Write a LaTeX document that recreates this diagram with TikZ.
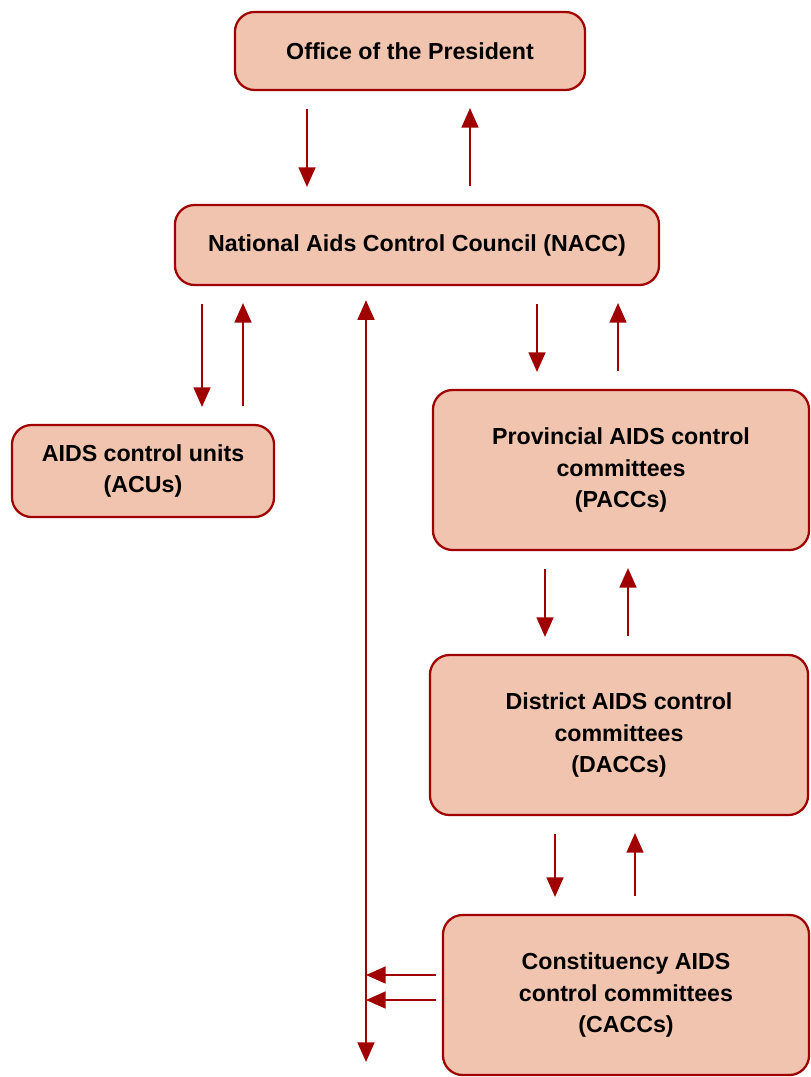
\documentclass[tikz,border=0pt]{standalone}
\usepackage{fontspec}
\setmainfont{Liberation Sans}
\usetikzlibrary{arrows.meta, positioning, calc}
\definecolor{boxRed}{HTML}{A00000}
\definecolor{boxFill}{HTML}{F0C4AE}
\tikzset{
  orgbox/.style={draw=boxRed, line width=1.6pt, fill=boxFill, rounded corners=14pt,
                 align=center, inner sep=0pt,
                 font=\bfseries\fontsize{16.5}{22.5}\selectfont},
  flow/.style={boxRed, line width=1.5pt, -{Triangle[width=12pt,length=14pt]}},
  gap/.style={shorten <=13pt, shorten >=12pt},
}

\begin{document}
\begin{tikzpicture}[x=0.025cm, y=-0.025cm]
    \useasboundingbox (0,0) rectangle (810,1077);
    % boxes
    \node[orgbox, minimum width=8.75cm, minimum height=1.95cm] (office) at (410,51) {Office of the President};
    \node[orgbox, minimum width=12.1cm, minimum height=2cm] (nacc) at (417,245) {National Aids Control Council (NACC)};
    \node[orgbox, minimum width=6.55cm, minimum height=2.3cm] (acu) at (143,471) {AIDS control units\\(ACUs)};
    \node[orgbox, minimum width=9.4cm, minimum height=4cm] (pacc) at (621,470) {Provincial AIDS control\\committees\\(PACCs)};
    \node[orgbox, minimum width=9.45cm, minimum height=4cm] (dacc) at (619,735) {District AIDS control\\committees\\(DACCs)};
    \node[orgbox, minimum width=9.15cm, minimum height=4cm] (cacc) at (626,995) {Constituency AIDS\\control committees\\(CACCs)};
    % arrow columns
    \coordinate (c1) at (307,0);
    \coordinate (c2) at (470,0);
    \coordinate (c3) at (202,0);
    \coordinate (c4) at (243,0);
    \coordinate (c5) at (537,0);
    \coordinate (c6) at (618,0);
    \coordinate (c7) at (545,0);
    \coordinate (c8) at (628,0);
    \coordinate (c9) at (555,0);
    \coordinate (c10) at (635,0);
    \coordinate (spine) at (366,0);
    \coordinate (bottom) at (366,1062);
    \coordinate (r1) at (0,975);
    \coordinate (r2) at (0,1000);
    % connectors
    \draw[flow, gap] (c1 |- office.south) -- (c1 |- nacc.north);
    \draw[flow, gap] (c2 |- nacc.north) -- (c2 |- office.south);
    \draw[flow, gap] (c3 |- nacc.south) -- (c3 |- acu.north);
    \draw[flow, gap] (c4 |- acu.north) -- (c4 |- nacc.south);
    \draw[flow, gap] (c5 |- nacc.south) -- (c5 |- pacc.north);
    \draw[flow, gap] (c6 |- pacc.north) -- (c6 |- nacc.south);
    \draw[flow, gap] (c7 |- pacc.south) -- (c7 |- dacc.north);
    \draw[flow, gap] (c8 |- dacc.north) -- (c8 |- pacc.south);
    \draw[flow, gap] (c9 |- dacc.south) -- (c9 |- cacc.north);
    \draw[flow, gap] (c10 |- cacc.north) -- (c10 |- dacc.south);
    \draw[flow, {Triangle[width=12pt,length=14pt]}-{Triangle[width=12pt,length=14pt]}, shorten <=10pt]
      (spine |- nacc.south) -- (bottom);
    \draw[flow, shorten <=4pt] (r1 -| cacc.west) -- (r1 -| spine);
    \draw[flow, shorten <=4pt] (r2 -| cacc.west) -- (r2 -| spine);
\end{tikzpicture}
\end{document}
